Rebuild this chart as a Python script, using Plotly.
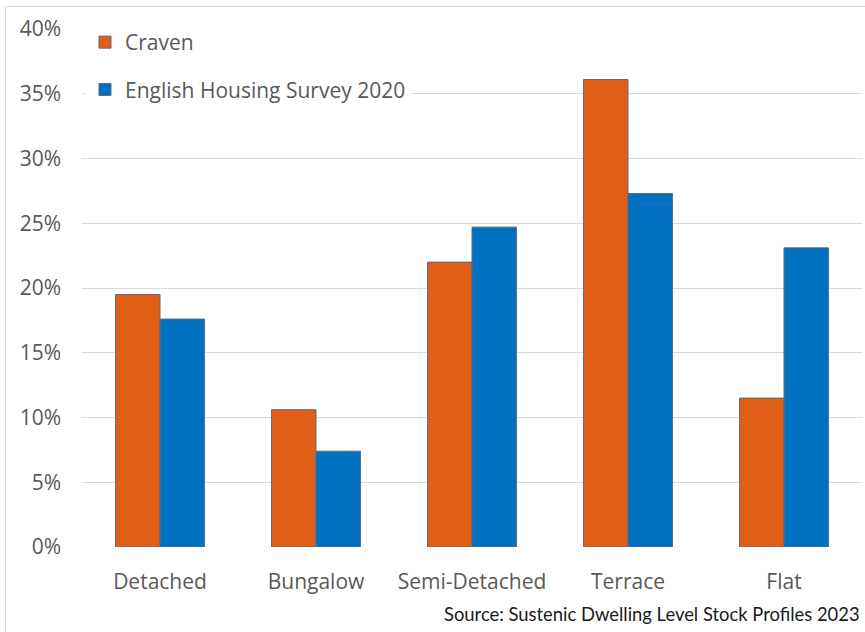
import plotly.graph_objects as go

categories = ["Detached", "Bungalow", "Semi-Detached", "Terrace", "Flat"]
craven = [19.5, 10.6, 22.0, 36.1, 11.5]
ehs = [17.6, 7.4, 24.7, 27.3, 23.1]
ytick_vals = [0, 5, 10, 15, 20, 25, 30, 35, 40]
ytick_text = [f"{v}%" for v in ytick_vals]

W, H = 865, 632
L, R, T, B = 82, 3, 29, 85
pw, ph = W - L - R, H - T - B

fig = go.Figure()
fig.add_trace(go.Bar(x=categories, y=craven, name="Craven", legendgroup="a",
                     marker=dict(color="#E05E15", line=dict(color="#5E6A7A", width=1))))
fig.add_trace(go.Bar(x=categories, y=ehs, name="English Housing Survey 2020", legendgroup="b",
                     marker=dict(color="#0070C0", line=dict(color="#5E6A7A", width=1))))

fig.update_layout(
    width=W, height=H,
    margin=dict(l=L, r=R, t=T, b=B),
    paper_bgcolor="white", plot_bgcolor="white",
    barmode="group", bargap=0.43, bargroupgap=0,
    font=dict(family="Open Sans", size=21, color="#595959"),
    showlegend=True,
    legend=dict(x=(85 - L) / pw, y=1 + (T - 22) / ph, xanchor="left", yanchor="top",
                bgcolor="white", font=dict(size=21, color="#595959"),
                tracegroupgap=17, itemwidth=30, traceorder="grouped"),
    xaxis=dict(showline=False, ticks="", ticklabelstandoff=20,
               tickfont=dict(size=21, color="#595959")),
    yaxis=dict(range=[0, 40], tickvals=ytick_vals, ticktext=ytick_text,
               showgrid=True, gridcolor="#D9D9D9", gridwidth=1, zeroline=False,
               ticks="", ticklabelstandoff=20, tickfont=dict(size=21, color="#595959")),
    shapes=[dict(type="rect", xref="paper", yref="paper",
                 x0=(5.5 - L) / pw, x1=(W + 10 - L) / pw,
                 y0=-(H + 10 - T - ph) / ph, y1=1 + (T - 6.5) / ph,
                 line=dict(color="#D9D9D9", width=1), fillcolor="rgba(0,0,0,0)", layer="below")],
    annotations=[dict(text="Source: Sustenic Dwelling Level Stock Profiles 2023",
                      xref="paper", yref="paper", x=1, xanchor="right",
                      y=-(614 - T - ph) / ph, yanchor="middle", showarrow=False,
                      font=dict(family="Lato", size=18.4, color="#1A1A1A"))],
)

fig.write_html("out.html")
